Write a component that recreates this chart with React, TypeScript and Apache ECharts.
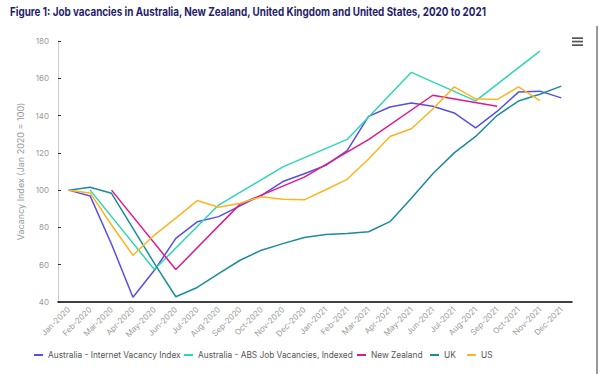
import React, { useEffect, useRef } from "react";
import * as echarts from "echarts";

const months = [
  "Jan-2020", "Feb-2020", "Mar-2020", "Apr-2020", "May-2020", "Jun-2020",
  "Jul-2020", "Aug-2020", "Sep-2020", "Oct-2020", "Nov-2020", "Dec-2020",
  "Jan-2021", "Feb-2021", "Mar-2021", "Apr-2021", "May-2021", "Jun-2021",
  "Jul-2021", "Aug-2021", "Sep-2021", "Oct-2021", "Nov-2021", "Dec-2021",
];

const ausIVI = [100, 96.9, 71, 42.5, 57, 74.1, 83, 85.8, 91.6, 97.2, 104.6, 108.8, 113.3, 121.2, 139.6, 144.6, 146.8, 145, 141.4, 133.4, 142.2, 152.6, 153.1, 149.5];
const ausABS = [null, 100, null, null, 57.4, null, null, 92, null, null, 112.5, null, null, 127.2, null, null, 163.2, null, null, 147.9, null, null, 174.6, null];
const nz = [null, null, 100, null, null, 57.4, null, null, 92.5, null, null, 107, null, null, 127.1, null, null, 150.9, null, null, 145, null, null, null];
const uk = [100, 101.5, 98.3, 79.5, 60.7, 42.8, 47.8, 55.2, 62.4, 67.8, 71.3, 74.6, 76.2, 76.7, 77.7, 83.1, 95.7, 108.8, 120, 128.8, 140, 147.8, 151.4, 155.8];
const us = [100, 98.5, 81.3, 65.1, 75.9, 85, 94.4, 90.8, 93, 96.5, 95.1, 94.8, 100.2, 105.8, 116.7, 128.8, 132.9, 143.5, 155.4, 149, 148.6, 155.4, 148, null];

const seriesNames = [
  "Australia - Internet Vacancy Index",
  "Australia - ABS Job Vacancies, Indexed",
  "New Zealand",
  "UK",
  "US",
];
const seriesData = [ausIVI, ausABS, nz, uk, us];
const colors = ["#5a4de3", "#2ed6b5", "#e3168e", "#1a8c9b", "#ffb41f"];
const legendLefts = [34, 184, 357, 430, 467];

const titleText =
  "Figure 1: Job vacancies in Australia, New Zealand, United Kingdom and United States, 2020 to 2021";

export default function App() {
  const ref = useRef<HTMLDivElement>(null);
  useEffect(() => {
    if (!ref.current) return;
    const chart = echarts.init(ref.current, null, { renderer: "svg" });
    const font = "Inter, 'Noto Sans', sans-serif";
    chart.setOption({
      animation: false,
      textStyle: { fontFamily: font },
      grid: { left: 58, right: 30, top: 41, bottom: 72, containLabel: false },
      legend: seriesNames.map((n, i) => ({
        data: [n],
        left: legendLefts[i],
        top: 350,
        padding: 0,
        icon: "rect",
        itemWidth: 9,
        itemHeight: 2,
        textStyle: { fontSize: 8.3, color: "#555", lineHeight: 10, fontFamily: font },
      })),
      xAxis: {
        type: "category",
        data: months,
        boundaryGap: true,
        axisLine: { lineStyle: { color: "#000", width: 1.5 } },
        axisTick: { show: false },
        axisLabel: { rotate: 45, fontSize: 8, color: "#999", margin: 6, interval: 0 },
      },
      yAxis: {
        type: "value",
        min: 40,
        max: 180,
        interval: 20,
        name: "Vacancy Index (Jan 2020 = 100)",
        nameLocation: "middle",
        nameGap: 25,
        nameTextStyle: { fontSize: 9, color: "#999" },
        axisLine: { show: true, lineStyle: { color: "#ccc" } },
        axisTick: { show: true, inside: true, length: 3, lineStyle: { color: "#333" } },
        axisLabel: { fontSize: 8, color: "#999", margin: 9 },
        splitLine: { show: false },
      },
      series: seriesNames.map((n, i) => ({
        name: n,
        type: "line",
        data: seriesData[i],
        connectNulls: true,
        showSymbol: false,
        symbol: "none",
        lineStyle: { width: 1.5, color: colors[i] },
        itemStyle: { color: colors[i] },
      })),
      graphic: [
        {
          type: "text",
          x: 10,
          y: 6,
          scaleX: 0.858,
          style: {
            text: titleText,
            font: "bold 11.5px Inter, 'Noto Sans', sans-serif",
            fill: "#1f1d6b",
          },
        },
        { type: "rect", shape: { x: 572, y: 37.3, width: 11, height: 1.7 }, style: { fill: "#555" } },
        { type: "rect", shape: { x: 572, y: 40.7, width: 11, height: 1.7 }, style: { fill: "#555" } },
        { type: "rect", shape: { x: 572, y: 44.3, width: 11, height: 1.7 }, style: { fill: "#555" } },
        { type: "line", shape: { x1: 597, y1: 26, x2: 597, y2: 374 }, style: { stroke: "#333", lineWidth: 1 } },
      ],
    });
    return () => chart.dispose();
  }, []);
  return <div ref={ref} style={{ width: 602, height: 374, position: "absolute", left: 0, top: 0 }} />;
}
